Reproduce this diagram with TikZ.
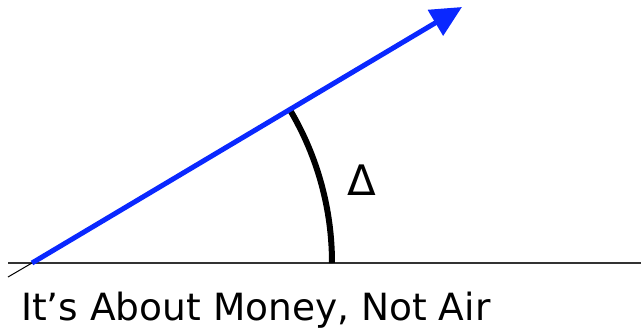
\documentclass[tikz,border=0pt]{standalone}
\usepackage{fontspec}
\setmainfont{DejaVu Sans}
\usetikzlibrary{arrows.meta}
\definecolor{vecblue}{RGB}{10,40,255}
\begin{document}
\begin{tikzpicture}[x=1pt,y=-1pt,
  base/.style={line width=1.3pt,draw=black!80},
  vec/.style={line width=5pt,draw=vecblue,-{Triangle[length=31pt,width=29pt]}},
  anglearc/.style={line width=6pt,draw=black},
  lbl/.style={inner sep=0pt,font=\fontsize{37.5}{44}\selectfont},
  dlbl/.style={inner sep=0pt,font=\fontsize{42}{48}\selectfont}]
\useasboundingbox (0,0) rectangle (641,330);
\coordinate (O) at (32,263);
\coordinate (L) at (8,263);
\coordinate (R) at (641,263);
\coordinate (T) at (462,7);
\coordinate (B) at (8,277);
\draw[base] (L) -- (R);
\draw[line width=1pt] (B) -- (O);
\draw[anglearc] (332,263) arc[start angle=0,end angle=-30.6,radius=300];
\draw[vec] (O) -- (T);
\node[dlbl,anchor=center] (d) at (362,180) {Δ};
\node[lbl,anchor=base west] (t) at (21,320) {It’s About Money, Not Air};
\end{tikzpicture}
\end{document}
